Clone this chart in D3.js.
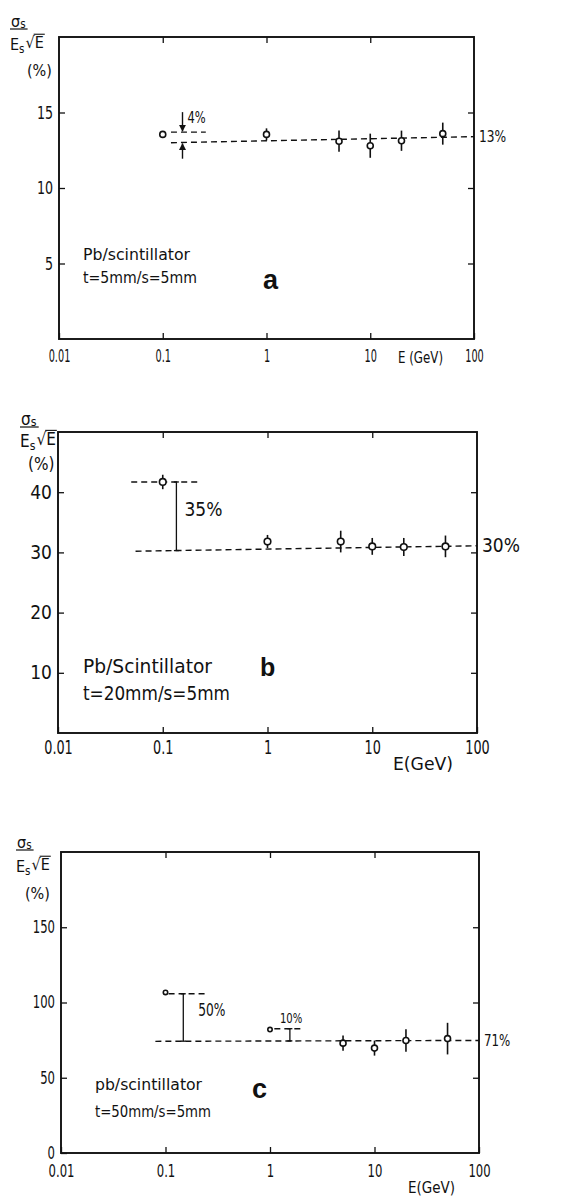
<!DOCTYPE html>
<meta charset="utf-8">
<style>
body { margin: 0; background: #fff; }
text { font-family: "Liberation Sans Narrow", "DejaVu Sans Condensed", "Liberation Sans", sans-serif; fill: #111; }
.fit { fill: none; stroke: #111; stroke-width: 1.4px; stroke-dasharray: 6,4; }
.frame { fill: none; stroke: #111; stroke-width: 1.9px; }
.tick line { stroke: #111; stroke-width: 1.3px; }
.err { stroke: #111; stroke-width: 1.6px; }
.pt { fill: #fff; stroke: #111; stroke-width: 1.6px; }
.bold { font-family: "Liberation Sans", Arial, sans-serif; font-weight: bold; }
</style>
<body>
<script src="https://d3js.org/d3.v7.min.js"></script>
<script>

// beam energies (GeV) measured in every panel
var energies = [0.1, 1, 5, 10, 20, 50];

// sigma_s/E_s * sqrt(E) (%) with error half-widths
var sigmaA = [13.55, 13.55, 13.1, 12.8, 13.13, 13.6];
var errA   = [0, 0.4, 0.7, 0.8, 0.67, 0.73];
var sigmaB = [41.7, 31.8, 31.8, 31.0, 30.9, 31.0];
var errB   = [1.2, 1.1, 1.8, 1.4, 1.5, 1.8];
var sigmaC = [106.7, 82, 73, 69.7, 74.8, 76];
var errC   = [0, 0, 5, 5, 7.5, 10.5];

// dashed fit lines [x, y] end points, and their labels
var fitA = [[0.12, 13.0], [100, 13.4]];
var fitB = [[0.055, 30.2], [100, 31.1]];
var fitC = [[0.08, 74.2], [100, 74.8]];
var fitLabels = ["13%", "30%", "71%"];

// low-energy step annotations: [x0, x1, yUpper], [xBar, yLower], label
var stepA  = [[0.12, 0.26, 13.7], [0.155, 13.0], "4%"];
var stepB  = [[0.05, 0.22, 41.7], [0.135, 30.3], "35%"];
var stepC  = [[0.107, 0.24, 105.8], [0.148, 74.3], "50%"];
var stepC2 = [[1.1, 1.99, 82.6], [1.55, 74.5], "10%"];

// axes
var xTicks = [0.01, 0.1, 1, 10, 100];
var xTickLabels = ["0.01", "0.1", "1", "10", "100"];
var yTicksA = [5, 10, 15];
var yTicksB = [10, 20, 30, 40];
var yTicksC = [0, 50, 100, 150];
var yMax = [20, 50, 200];

var W = 562, H = 1196;
var svg = d3.select("body").append("svg")
    .attr("width", W)
    .attr("height", H);

var panels = [
  {left: 59, right: 474, top: 37, bottom: 339, fs: 18, xSq: 0.6, ySq: 0.78, yMax: yMax[0], yTicks: yTicksA,
   sigma: sigmaA, err: errA, fit: fitA, fitLabel: fitLabels[0], fitFs: 16, fitSq: 0.85,
   steps: [stepA], stepFs: [15],
   xPad: 10, lab: [10, 29, 21, 47, 17], labFs: 16,
   text1: "Pb/scintillator", text2: "t=5mm/s=5mm", tfs: 16, tw: [107, 114], tx: 83, ty: 260, tdy: 23,
   letter: "a", lx: 263, ly: 289, lfs: 27,
   eText: "E (GeV)", eLabel: [398, 357], efs: 16, ew: 45, r: [3, 3, 3, 3, 3, 3]},
  {left: 58, right: 477, top: 432, bottom: 733, fs: 19, xSq: 0.75, ySq: 1, yMax: yMax[1], yTicks: yTicksB,
   sigma: sigmaB, err: errB, fit: fitB, fitLabel: fitLabels[1], fitFs: 19, fitSq: 1,
   steps: [stepB], stepFs: [19],
   xPad: 8, lab: [20, 427, 20, 43, 8], labFs: 17,
   text1: "Pb/Scintillator", text2: "t=20mm/s=5mm", tfs: 19, tw: [129, 147], tx: 83, ty: 673, tdy: 27,
   letter: "b", lx: 260, ly: 676, lfs: 25,
   eText: "E(GeV)", eLabel: [393, 764], efs: 18, ew: 60, r: [3.3, 3.3, 3.3, 3.3, 3.3, 3.3]},
  {left: 61, right: 479, top: 852, bottom: 1153, fs: 17, xSq: 0.76, ySq: 0.76, yMax: yMax[2], yTicks: yTicksC,
   sigma: sigmaC, err: errC, fit: fitC, fitLabel: fitLabels[2], fitFs: 16, fitSq: 0.82,
   steps: [stepC, stepC2], stepFs: [17, 14],
   xPad: 12, lab: [16, 850, 22, 49, 9], labFs: 16,
   text1: "pb/scintillator", text2: "t=50mm/s=5mm", tfs: 16, tw: [107, 116], tx: 95, ty: 1090, tdy: 27,
   letter: "c", lx: 252, ly: 1098, lfs: 27,
   eText: "E(GeV)", eLabel: [408, 1187], efs: 16, ew: 47, r: [2.2, 2.2, 3, 3, 3, 3]}
];

svg.append("defs").append("marker")
    .attr("id", "arrow")
    .attr("viewBox", "0 0 10 10")
    .attr("refX", 9).attr("refY", 5)
    .attr("markerWidth", 5).attr("markerHeight", 6)
    .attr("orient", "auto")
  .append("path")
    .attr("d", "M0,0L10,5L0,10Z")
    .attr("fill", "#111");

// squeeze text horizontally, the scanned lettering is narrow
function squeeze(sel, f) {
  sel.each(function() {
    var w = this.getComputedTextLength();
    d3.select(this).attr("textLength", w * f).attr("lengthAdjust", "spacingAndGlyphs");
  });
}

function fixWidth(sel, w) {
  sel.attr("textLength", w).attr("lengthAdjust", "spacingAndGlyphs");
}

function yLabel(g, x, y, fs, eDy, pDy, pDx) {
  var s = g.append("text").attr("x", x + 1).attr("y", y - 2).attr("font-size", fs).text("σ");
  s.append("tspan").attr("font-size", fs * 0.72).attr("dy", "0.12em").text("s");
  g.append("line").attr("x1", x).attr("x2", x + fs * 1.1).attr("y1", y).attr("y2", y)
      .attr("stroke", "#111").attr("stroke-width", 1.2);
  var e = g.append("text").attr("x", x).attr("y", y + eDy).attr("font-size", fs).text("E");
  e.append("tspan").attr("font-size", fs * 0.72).attr("dy", "0.25em").text("s");
  var ex = x + e.node().getComputedTextLength() + 1;
  var root = g.append("text").attr("x", ex).attr("y", y + eDy - 2).attr("font-size", fs).text("√");
  var rx = ex + root.node().getComputedTextLength();
  var e2 = g.append("text").attr("x", rx).attr("y", y + eDy - 2).attr("font-size", fs).text("E");
  var w2 = e2.node().getComputedTextLength();
  g.append("line").attr("x1", rx - 1).attr("x2", rx + w2 + 1)
      .attr("y1", y + eDy - 2 - fs * 0.86).attr("y2", y + eDy - 2 - fs * 0.86)
      .attr("stroke", "#111").attr("stroke-width", 1.1);
  g.append("text").attr("x", x + pDx).attr("y", y + pDy).attr("font-size", fs).text("(%)");
}

panels.forEach(function(p) {
  var g = svg.append("g");
  var x = d3.scaleLog().domain([0.01, 100]).range([p.left, p.right]);
  var y = d3.scaleLinear().domain([0, p.yMax]).range([p.bottom, p.top]);

  // inward ticks on all four sides
  var gx = g.append("g").attr("transform", "translate(0," + p.bottom + ")")
      .call(d3.axisBottom(x).tickValues(xTicks)
            .tickFormat(function(d, i) { return xTickLabels[i]; })
            .tickSizeInner(-6).tickSizeOuter(0).tickPadding(p.xPad));
  g.append("g").attr("transform", "translate(0," + p.top + ")")
      .call(d3.axisTop(x).tickValues(xTicks.slice(1, 4)).tickFormat("")
            .tickSizeInner(-6).tickSizeOuter(0));
  var gy = g.append("g").attr("transform", "translate(" + p.left + ",0)")
      .call(d3.axisLeft(y).tickValues(p.yTicks)
            .tickSizeInner(-6).tickSizeOuter(0).tickPadding(6));
  g.append("g").attr("transform", "translate(" + p.right + ",0)")
      .call(d3.axisRight(y).tickValues(p.yTicks.filter(function(v) { return v > 0; }))
            .tickFormat("").tickSizeInner(-6).tickSizeOuter(0));
  g.selectAll(".domain").remove();
  g.selectAll("g").attr("font-family", null).attr("font-size", null);
  gx.selectAll(".tick text").attr("font-size", p.fs).call(squeeze, p.xSq);
  gy.selectAll(".tick text").attr("font-size", p.fs).call(squeeze, p.ySq);

  g.append("rect").attr("class", "frame")
      .attr("x", p.left).attr("y", p.top)
      .attr("width", p.right - p.left).attr("height", p.bottom - p.top);

  g.append("text").attr("x", p.eLabel[0]).attr("y", p.eLabel[1])
      .attr("font-size", p.efs).attr("dy", "0.35em").text(p.eText)
      .call(fixWidth, p.ew);

  yLabel(g, p.lab[0], p.lab[1], p.labFs, p.lab[2], p.lab[3], p.lab[4]);

  // fit line and label
  g.append("path").attr("class", "fit")
      .attr("d", d3.line().x(function(d) { return x(d[0]); }).y(function(d) { return y(d[1]); })(p.fit));
  g.append("text").attr("x", p.right + 5).attr("y", y(p.fit[1][1]))
      .attr("dy", "0.35em").attr("font-size", p.fitFs).text(p.fitLabel)
      .call(squeeze, p.fitSq);

  // step annotations
  p.steps.forEach(function(s, k) {
    var ln = s[0], bar = s[1], fs = p.stepFs[k];
    g.append("line").attr("class", "fit")
        .attr("x1", x(ln[0])).attr("x2", x(ln[1]))
        .attr("y1", y(ln[2])).attr("y2", y(ln[2]));
    var bx = x(bar[0]);
    if (p.letter === "a") {
      g.append("line").attr("stroke", "#111").attr("stroke-width", 1.4)
          .attr("x1", bx).attr("x2", bx).attr("y1", y(ln[2]) - 20).attr("y2", y(ln[2]) - 1)
          .attr("marker-end", "url(#arrow)");
      g.append("line").attr("stroke", "#111").attr("stroke-width", 1.4)
          .attr("x1", bx).attr("x2", bx).attr("y1", y(bar[1]) + 16).attr("y2", y(bar[1]) + 1)
          .attr("marker-end", "url(#arrow)");
      g.append("text").attr("x", bx + 5).attr("y", y(ln[2]) - 9)
          .attr("font-size", fs).text(s[2]).call(squeeze, 0.85);
    } else {
      var y0 = y(ln[2]), y1 = y(bar[1]);
      g.append("line").attr("stroke", "#111").attr("stroke-width", 1.3)
          .attr("x1", bx).attr("x2", bx).attr("y1", y0).attr("y2", y1);
      [y0, y1].forEach(function(yy) {
        g.append("line").attr("stroke", "#111").attr("stroke-width", 1.3)
            .attr("x1", bx - 2.5).attr("x2", bx + 2.5).attr("y1", yy).attr("y2", yy);
      });
      var small = (k === 1);
      g.append("text")
          .attr("x", small ? bx - 10 : bx + (p.letter === "c" ? 15 : 8))
          .attr("y", small ? y0 - 11 : (y0 + y1) / 2 - 7)
          .attr("dy", "0.35em")
          .attr("font-size", fs).text(s[2]).call(squeeze, p.letter === "c" ? 0.8 : 1);
    }
  });

  // data: error bars and open circles
  var pts = energies.map(function(e, i) { return {e: e, v: p.sigma[i], err: p.err[i], r: p.r[i]}; });
  g.selectAll(".err").data(pts.filter(function(d) { return d.err > 0; })).enter()
    .append("line").attr("class", "err")
      .attr("x1", function(d) { return x(d.e); }).attr("x2", function(d) { return x(d.e); })
      .attr("y1", function(d) { return y(d.v + d.err); })
      .attr("y2", function(d) { return y(d.v - d.err); });
  g.selectAll(".pt").data(pts).enter()
    .append("circle").attr("class", "pt")
      .attr("cx", function(d) { return x(d.e); })
      .attr("cy", function(d) { return y(d.v); })
      .attr("r", function(d) { return d.r; });

  // material description and panel letter
  g.append("text").attr("x", p.tx).attr("y", p.ty).attr("font-size", p.tfs).text(p.text1)
      .call(fixWidth, p.tw[0]);
  g.append("text").attr("x", p.tx).attr("y", p.ty + p.tdy).attr("font-size", p.tfs).text(p.text2)
      .call(fixWidth, p.tw[1]);
  g.append("text").attr("class", "bold").attr("x", p.lx).attr("y", p.ly)
      .attr("font-size", p.lfs).text(p.letter);
});

</script>
</body>
